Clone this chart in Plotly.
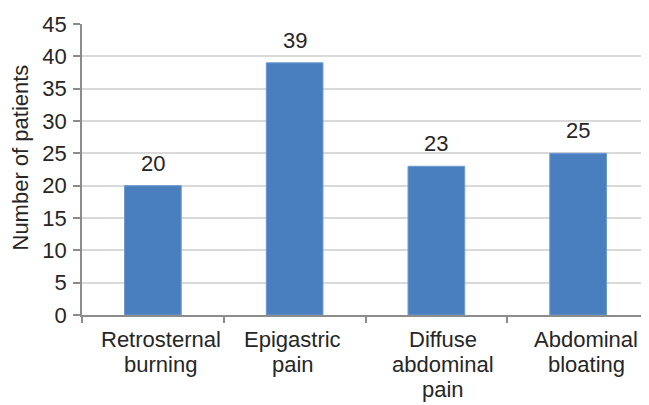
import plotly.graph_objects as go

categories = ["Retrosternal<br>burning", "Epigastric<br>pain", "Diffuse<br>abdominal<br>pain", "Abdominal<br>bloating"]
values = [20, 39, 23, 25]
y_ticks = [0, 5, 10, 15, 20, 25, 30, 35, 40, 45]
y_title = "Number of patients"

# style: small horizontal nudges of category labels, as in the reference
label_xshift = [8, -2, 7, 8]

font = dict(family="Liberation Sans, Arial, sans-serif", size=22, color="#262626")

fig = go.Figure(go.Bar(
    x=categories, y=values,
    marker=dict(color="#4a7fbf", line=dict(color="#6f9ad0", width=1)),
    width=0.4,
))

# value labels above bars
for c, v in zip(categories, values):
    fig.add_annotation(x=c, y=v, text=str(v), showarrow=False, yanchor="bottom",
                       yshift=8, font=font)

# category labels, one annotation per line for tighter line spacing
for c, dx in zip(categories, label_xshift):
    for i, line in enumerate(c.split("<br>")):
        fig.add_annotation(x=c, xref="x", y=0, yref="paper", text=line,
                           showarrow=False, yanchor="top", xanchor="center",
                           yshift=-10 - 25 * i, xshift=dx, font=font)

# y-axis title
fig.add_annotation(x=0, xref="paper", y=0.5, yref="paper", text=y_title,
                   textangle=-90, showarrow=False, xanchor="center", yanchor="middle",
                   xshift=-62, yshift=12, font=font)

fig.update_layout(
    width=641, height=397,
    margin=dict(l=74, r=0, t=16, b=90),
    plot_bgcolor="white", paper_bgcolor="white",
    font=font, showlegend=False,
)
fig.update_yaxes(
    range=[0, 45], tickvals=y_ticks, showgrid=True, gridcolor="#d9d9d9", gridwidth=1.5,
    showline=True, linecolor="#8c8c8c", linewidth=1.5,
    ticks="outside", ticklen=7, tickcolor="#8c8c8c", tickwidth=1.5,
    ticklabelstandoff=2,
    zeroline=False, tickfont=font, automargin=False,
)
fig.update_xaxes(
    showline=True, linecolor="#8c8c8c", linewidth=1.5,
    ticks="outside", ticklen=6, tickcolor="#8c8c8c", tickwidth=1.5,
    tickson="boundaries", showticklabels=False, automargin=False,
)

fig.write_html("out.html")
